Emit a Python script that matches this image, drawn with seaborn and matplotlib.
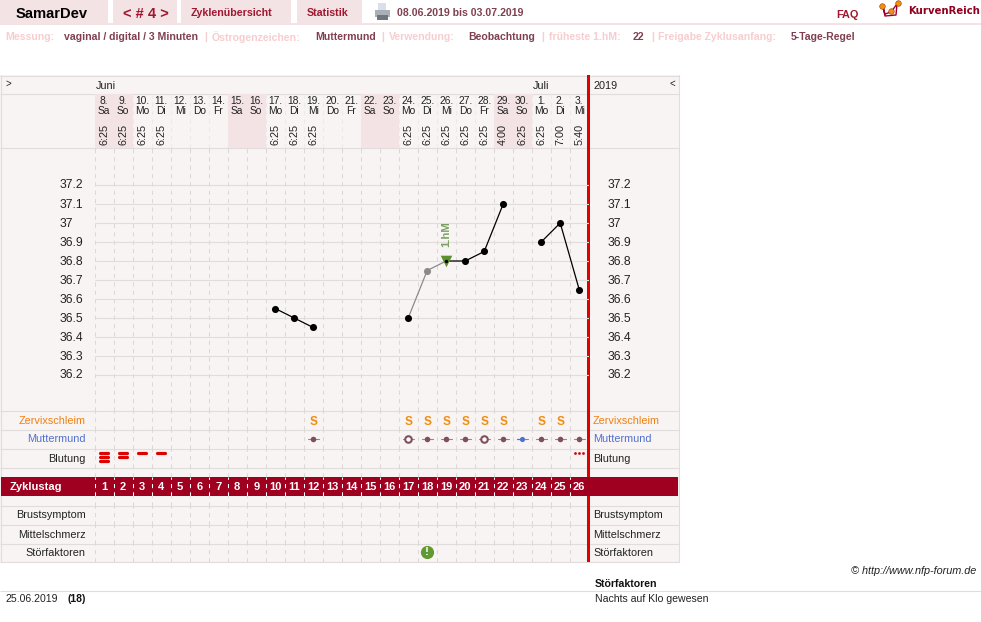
import matplotlib
matplotlib.use('Agg')
import matplotlib.pyplot as plt
from matplotlib.patches import Rectangle
import seaborn as sns

W, H = 981, 622

dates = ['8.', '9.', '10.', '11.', '12.', '13.', '14.', '15.', '16.', '17.', '18.', '19.', '20.',
         '21.', '22.', '23.', '24.', '25.', '26.', '27.', '28.', '29.', '30.', '1.', '2.', '3.']
weekdays = ['Sa', 'So', 'Mo', 'Di', 'Mi', 'Do', 'Fr', 'Sa', 'So', 'Mo', 'Di', 'Mi', 'Do',
            'Fr', 'Sa', 'So', 'Mo', 'Di', 'Mi', 'Do', 'Fr', 'Sa', 'So', 'Mo', 'Di', 'Mi']
times = ['6:25', '6:25', '6:25', '6:25', '', '', '', '', '', '6:25', '6:25', '6:25', '',
         '', '', '', '6:25', '6:25', '6:25', '6:25', '6:25', '4:00', '6:25', '6:25', '7:00', '5:40']
days = list(range(1, 27))

run1_days = [10, 11, 12]
run1_temps = [36.55, 36.5, 36.45]
grey_days = [17, 18, 19]
grey_temps = [36.5, 36.75, 36.8]
run2_days = [19, 20, 21, 22]
run2_temps = [36.8, 36.8, 36.85, 37.1]
run3_days = [24, 25, 26]
run3_temps = [36.9, 37.0, 36.65]
temp_ticks = [37.2, 37.1, 37.0, 36.9, 36.8, 36.7, 36.6, 36.5, 36.4, 36.3, 36.2]
temp_labels = ['37.2', '37.1', '37', '36.9', '36.8', '36.7', '36.6', '36.5', '36.4', '36.3', '36.2']

schleim_days = [12, 17, 18, 19, 20, 21, 22, 24, 25]
mumu_closed = [12, 18, 19, 20, 22, 24, 25, 26]
mumu_open = [17, 21]
mumu_blue = [23]
bleed_days = [1, 2, 3, 4]
bleed_bars = [3, 2, 1, 1]
spot_days = [26]
stoer_days = [18]

BG = '#f9f4f4'
PINK = '#f3e3e5'
GRID = '#e2dddd'
DASH = '#dcd8d6'
DARK = '#a00020'
RED = '#e00000'
TEXT_RED = '#a01830'
MUTED = '#804050'
LIGHT = '#f8cdd0'
NARROW = ['Liberation Sans Narrow', 'Liberation Sans']

sns.set_style('white')
plt.rcParams['font.family'] = ['Liberation Sans', 'DejaVu Sans']

fig = plt.figure(figsize=(W / 100, H / 100), dpi=100)

# page layer in pixel coordinates
page = fig.add_axes([0, 0, 1, 1])
page.set_xlim(0, W)
page.set_ylim(H, 0)
page.axis('off')


def box(x0, y0, x1, y1, color, ax=page, z=1):
    ax.add_patch(Rectangle((x0, y0), x1 - x0, y1 - y0, fc=color, ec='none', zorder=z))


def hline(y, x0, x1, color=GRID, lw=0.8):
    page.plot([x0, x1], [y, y], color=color, lw=lw, solid_capstyle='butt', zorder=2)


def label(x, y, s, size=8.0, color='#222222', **kw):
    kw.setdefault('va', 'center_baseline')
    page.text(x, y, s, fontsize=size, color=color, zorder=6, **kw)


# top menu
for x0, x1 in [(0, 108), (113, 177), (181, 291), (297, 362)]:
    box(x0, 0, x1, 23, PINK)
box(0, 23, W, 25, PINK)
label(16, 13, 'SamarDev', size=10.6, color='#000000', fontweight='bold')
label(123, 13, '< # 4 >', size=10.5, color=TEXT_RED, fontweight='bold')
label(191, 12, 'Zyklenübersicht', size=7.7, color=TEXT_RED, fontweight='bold')
label(307, 12, 'Statistik', size=7.7, color=TEXT_RED, fontweight='bold')
label(397, 12, '08.06.2019 bis 03.07.2019', size=7.6, color=MUTED, fontweight='bold')
label(836, 14, 'FAQ', size=7.8, color=TEXT_RED, fontweight='bold')
label(908, 10, 'KurvenReich', size=7.3, color='#900020', fontweight='bold', family='DejaVu Sans')

# printer icon
box(378, 3, 386, 11, '#d8e0ec', z=3)
box(375, 10, 390, 17, '#aab0b8', z=3)
box(377, 15, 388, 20, '#70767e', z=3)

# logo
page.plot([883, 885, 891, 897, 896, 885, 883], [7, 14, 12, 4, 15, 16, 7], color='#a00030', lw=1.0, zorder=4)
page.scatter([882, 891, 898], [6, 11, 3], s=16, color='#f09010', edgecolor='#a03000', linewidth=0.4, zorder=5)

# sub line
sub = [(5, 'Messung:', LIGHT), (64, 'vaginal / digital / 3 Minuten', MUTED), (204, '|', LIGHT),
       (212, 'Östrogenzeichen:', LIGHT), (315, 'Muttermund', MUTED), (381, '|', LIGHT),
       (389, 'Verwendung:', LIGHT), (468, 'Beobachtung', MUTED), (541, '|', LIGHT),
       (549, 'früheste 1.hM:', LIGHT), (633, '22', MUTED), (651, '|', LIGHT),
       (658, 'Freigabe Zyklusanfang:', LIGHT), (791, '5-Tage-Regel', MUTED)]
for x, s, c in sub:
    label(x, 36, s, size=7.6, color=c, fontweight='bold')

# table frame
COL0, COL1 = 94.7, 588.7
box(0, 75, 678.5, 562, BG)
for y in [75.5, 93.5, 147.5, 410.5, 429.5, 448.5, 467.5, 505.5, 524.5, 543.5, 562]:
    hline(y, 0, 678.5)
for x in [0.5, 678.5]:
    page.plot([x, x], [75, 562], color=GRID, lw=0.8, zorder=2)
box(1, 477, 678, 496, DARK, z=3)
label(10, 486.5, 'Zyklustag', size=8, color='white', fontweight='bold')
box(587, 75, 590, 477, RED, z=5)
box(587, 496, 590, 562, RED, z=5)

label(5, 83, '>', size=7)
label(669, 83, '<', size=7)
label(96, 85, 'Juni', size=7.8)
label(533, 85, 'Juli', size=7.8)
label(593, 85, '2019', size=7.8)

for name, y, c in [('Zervixschleim', 419.5, '#f08010'), ('Muttermund', 438.5, '#5070d0'), ('Blutung', 457.5, '#222222'),
                   ('Brustsymptom', 514.5, '#222222'), ('Mittelschmerz', 533.5, '#222222'), ('Störfaktoren', 552.5, '#222222')]:
    label(85.5, y, s=name, size=7.8, color=c, ha='right')
    label(593, y, s=name, size=7.8, color=c)

# footer
hline(590.5, 0, W)
label(976, 570, '© http://www.nfp-forum.de', size=7.8, ha='right', style='italic')
label(595, 583, 'Störfaktoren', size=7.6, color='#111111', fontweight='bold')
label(595, 598, 'Nachts auf Klo gewesen', size=7.6)
label(5, 598, '25.06.2019', size=7.6)
label(68, 598, '(18)', size=7.6, color='#111111', fontweight='bold')


def day_axes(top, bottom):
    # axes over the day columns, x runs in cycle days
    ax = fig.add_axes([COL0 / W, 1 - bottom / H, (COL1 - COL0) / W, (bottom - top) / H])
    ax.patch.set_alpha(0)
    for s in ax.spines.values():
        s.set_visible(False)
    return ax


def tidy(ax, ylim):
    ax.set_xlim(0.5, 26.5)
    ax.set_ylim(*ylim)
    ax.set_xlabel('')
    ax.set_ylabel('')
    ax.set_xticks([])
    ax.set_yticks([])


def dashes(ax, color=DASH):
    for d in days:
        ax.axvline(d - 0.5, color=color, lw=0.75, ls=(0, (4, 4)), zorder=1)


# date header
head = day_axes(93.5, 147.5)
dashes(head, color='#eee9e9')
for i, d in enumerate(days):
    if weekdays[i] in ('Sa', 'So'):
        box(d - 0.5, 0, d + 0.5, 54, PINK, ax=head)
    head.text(d, 8, dates[i], ha='center', va='center', fontsize=7.4, color='#222222', family=NARROW)
    head.text(d, 18, weekdays[i], ha='center', va='center', fontsize=7.4, color='#222222', family=NARROW)
    if times[i]:
        head.text(d, 41, times[i], ha='center', va='center', fontsize=7.8, color='#222222', rotation=90, family=NARROW)
tidy(head, (54, 0))

# temperature curve
chart = day_axes(147.5, 410.5)
dashes(chart)
for t, lab in zip(temp_ticks, temp_labels):
    chart.axhline(t, color=GRID, lw=0.8, zorder=1)
    y = 184 + (37.2 - t) * 190
    label(60, y, lab, size=8.7)
    label(608, y, lab, size=8.7)

for xs, ys, color, lw in [(run1_days, run1_temps, 'black', 0.9), (grey_days, grey_temps, '#8a8a8a', 0.9),
                          (run2_days, run2_temps, 'black', 0.9), (run3_days, run3_temps, 'black', 0.9)]:
    sns.lineplot(x=xs, y=ys, color=color, lw=lw, ax=chart, zorder=3, errorbar=None)

black_days = run1_days + grey_days[:1] + run2_days[1:] + run3_days
black_temps = run1_temps + grey_temps[:1] + run2_temps[1:] + run3_temps
sns.scatterplot(x=black_days, y=black_temps, color='black', s=26, linewidth=0, ax=chart, zorder=5)
sns.scatterplot(x=grey_days[1:2], y=grey_temps[1:2], color='#8a8a8a', s=26, linewidth=0, ax=chart, zorder=5)
sns.scatterplot(x=run2_days[:1], y=run2_temps[:1], color='#5f9030', marker='v', s=70, linewidth=0, ax=chart, zorder=4)
sns.scatterplot(x=run2_days[:1], y=run2_temps[:1], color='black', s=6, linewidth=0, ax=chart, zorder=6)
chart.annotate('1.hM', (run2_days[0], run2_temps[0]), xytext=(0, 10), textcoords='offset points', ha='center',
               va='bottom', rotation=90, fontsize=8.2, fontweight='bold', color='#7aa060', zorder=6)
tidy(chart, (37.2 - (410.5 - 185) / 190, 37.2 + (185 - 147.5) / 190))

# observation rows
zervix = day_axes(410.5, 429.5)
mumu = day_axes(429.5, 448.5)
bleed = day_axes(448.5, 467.5)
gap = day_axes(467.5, 477)
cycle = day_axes(477, 496)
gap2 = day_axes(496, 505.5)
brust = day_axes(505.5, 524.5)
mittel = day_axes(524.5, 543.5)
stoer = day_axes(543.5, 562)
for ax in [zervix, mumu, bleed, gap, gap2, brust, mittel, stoer]:
    dashes(ax)
dashes(cycle, color='white')
cycle.set_zorder(4)

for d in schleim_days:
    zervix.text(d, 11.5, 'S', ha='center', va='center', fontsize=8.6, color='#f08c10', fontweight='bold')

for d in mumu_closed + mumu_open:
    mumu.plot([d - 0.28, d + 0.28], [9.5, 9.5], color='#a08088', lw=0.8, zorder=2)
mumu.plot([mumu_blue[0] - 0.28, mumu_blue[0]], [9.5, 9.5], color='#5070d0', lw=0.9, zorder=2)
mumu.plot([mumu_blue[0], mumu_blue[0] + 0.28], [9.5, 9.5], color='#a08088', lw=0.8, zorder=2)
sns.scatterplot(x=mumu_closed, y=[9.5] * len(mumu_closed), color='#805058', s=16, linewidth=0, ax=mumu, zorder=3)
sns.scatterplot(x=mumu_open, y=[9.5] * len(mumu_open), color='white', edgecolor='#805058', s=22, linewidth=1.5, ax=mumu, zorder=3)
sns.scatterplot(x=mumu_blue, y=[9.5], color='#5070d0', s=14, linewidth=0, ax=mumu, zorder=3)

for d, n in zip(bleed_days, bleed_bars):
    for k in range(n):
        bleed.plot([d - 0.22, d + 0.22], [4.8 + 4 * k] * 2, color=RED, lw=2.3, solid_capstyle='round', zorder=3)
spot_x = [spot_days[0] - 0.2, spot_days[0], spot_days[0] + 0.2]
sns.scatterplot(x=spot_x, y=[4.8] * 3, color=RED, s=4, linewidth=0, ax=bleed, zorder=3)

for d in days:
    cycle.text(d, 9.8, str(d), ha='center', va='center', fontsize=8, color='white', fontweight='bold')

sns.scatterplot(x=stoer_days, y=[8.8], color='#609a30', s=90, linewidth=0, ax=stoer, zorder=3)
stoer.text(stoer_days[0], 8.8, '!', ha='center', va='center', fontsize=8.2, color='white', fontweight='bold', zorder=4)

for ax in [zervix, mumu, bleed, gap, cycle, gap2, brust, mittel, stoer]:
    tidy(ax, (19, 0))

fig.savefig('out.png', dpi=100)
